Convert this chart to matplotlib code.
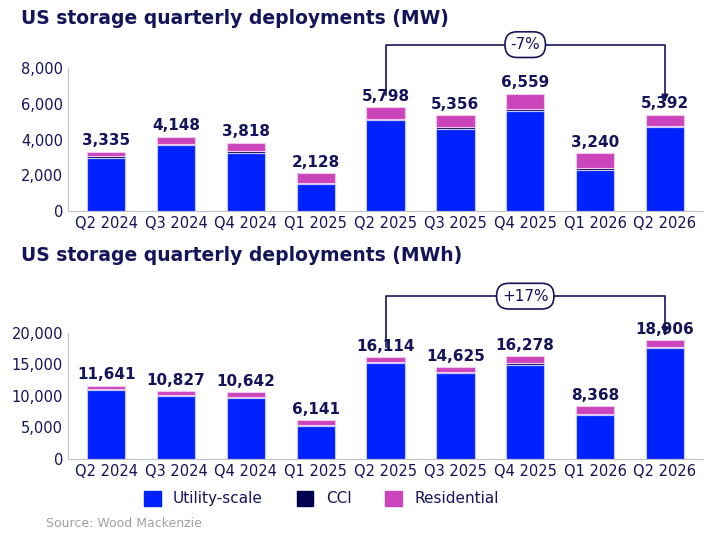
import numpy as np
import matplotlib.pyplot as plt

quarters = ['Q2 2024', 'Q3 2024', 'Q4 2024', 'Q1 2025', 'Q2 2025',
            'Q3 2025', 'Q4 2025', 'Q1 2026', 'Q2 2026']

# MW
mw_total = [3335, 4148, 3818, 2128, 5798, 5356, 6559, 3240, 5392]
mw_utility = [3000, 3700, 3250, 1530, 5080, 4600, 5580, 2330, 4700]
mw_cci = [80, 60, 130, 50, 70, 90, 150, 100, 60]
mw_res = [t - u - c for t, u, c in zip(mw_total, mw_utility, mw_cci)]

# MWh
mwh_total = [11641, 10827, 10642, 6141, 16114, 14625, 16278, 8368, 18906]
mwh_utility = [10950, 10000, 9700, 5300, 15150, 13650, 14850, 6900, 17600]
mwh_cci = [200, 200, 200, 100, 200, 150, 300, 300, 150]
mwh_res = [t - u - c for t, u, c in zip(mwh_total, mwh_utility, mwh_cci)]

C_UTIL = '#0022ff'
C_CCI = '#000050'
C_RES = '#cc44bb'
NAVY = '#14145a'

fig = plt.figure(figsize=(7.14, 5.35), dpi=100)
ax1 = fig.add_axes([0.095, 0.605, 0.89, 0.268])
ax2 = fig.add_axes([0.095, 0.142, 0.89, 0.236])

x = np.arange(len(quarters))


def draw(ax, util, cci, res, total, ymax, step, fmt_pad):
    ax.bar(x, util, 0.55, color=C_UTIL, edgecolor='#c8c8ff', linewidth=0.8)
    ax.bar(x, cci, 0.55, bottom=util, color=C_CCI, edgecolor='#c8c8ff', linewidth=0.8)
    b2 = np.array(util) + np.array(cci)
    ax.bar(x, res, 0.55, bottom=b2, color=C_RES, edgecolor='#f0c8f0', linewidth=0.8)
    for xi, t in zip(x, total):
        ax.text(xi, t + fmt_pad, f'{t:,}', ha='center', va='bottom',
                fontsize=11, fontweight='bold', color=NAVY)
    ax.set_ylim(0, ymax)
    ax.set_yticks(np.arange(0, ymax + 1, step))
    ax.set_yticklabels([f'{v:,}' for v in np.arange(0, ymax + 1, step)])
    ax.set_xlim(-0.55, len(quarters) - 0.45)
    ax.set_xticks(x)
    ax.set_xticklabels(quarters)
    ax.tick_params(colors=NAVY, labelsize=10.5, length=0)
    for s in ['top', 'right']:
        ax.spines[s].set_visible(False)
    ax.spines['left'].set_color('#c0c0d0')
    ax.spines['bottom'].set_color('#c0c0d0')


draw(ax1, mw_utility, mw_cci, mw_res, mw_total, 8000, 2000, 200)
draw(ax2, mwh_utility, mwh_cci, mwh_res, mwh_total, 20000, 5000, 500)


def bracket(ax, y_top, y_left, y_right, label):
    ax.plot([4, 4, 8, 8], [y_left, y_top, y_top, y_right], color=NAVY, lw=1.2,
            clip_on=False)
    ax.annotate('', xy=(8, y_right - 0.1 * (y_top - y_right)), xytext=(8, y_right + 0.05),
                arrowprops=dict(arrowstyle='-|>', color=NAVY, lw=1.2), annotation_clip=False)
    ax.text(6, y_top, label, ha='center', va='center', fontsize=11, color=NAVY,
            bbox=dict(boxstyle='round,pad=0.35,rounding_size=0.8', fc='white', ec=NAVY, lw=1.2),
            clip_on=False)


bracket(ax1, 9300, 6500, 6400, '-7%')
bracket(ax2, 25800, 17700, 20300, '+17%')

fig.text(0.03, 0.965, 'US storage quarterly deployments (MW)', fontsize=13.5,
         fontweight='bold', color=NAVY, va='center')
fig.text(0.03, 0.522, 'US storage quarterly deployments (MWh)', fontsize=13.5,
         fontweight='bold', color=NAVY, va='center')

handles = [plt.Rectangle((0, 0), 1, 1, color=c) for c in (C_UTIL, C_CCI, C_RES)]
fig.legend(handles, ['Utility-scale', 'CCI', 'Residential'], loc='center',
           bbox_to_anchor=(0.45, 0.068), ncol=3, frameon=False, fontsize=11,
           handlelength=1.1, handleheight=1.1, columnspacing=2.2, labelcolor=NAVY)
fig.text(0.065, 0.022, 'Source: Wood Mackenzie', fontsize=9, color='#a0a0a0', va='center')

fig.savefig('out.png', dpi=100)
